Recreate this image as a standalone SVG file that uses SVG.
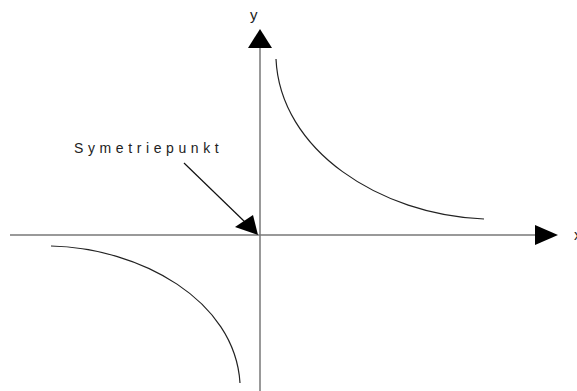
<svg xmlns="http://www.w3.org/2000/svg" width="577" height="391" viewBox="0 0 577 391">
<style>
.axis{stroke:#777;stroke-width:1.5;fill:none}
.curve{stroke:#222;stroke-width:1.2;fill:none}
.head{fill:#000;stroke:none}
.lbl{font-family:"Liberation Sans",Arial,sans-serif;fill:#222}
</style>
<rect width="577" height="391" fill="#fff"/>
<g id="connectors">
<line class="axis" x1="10" y1="235" x2="540" y2="235"/>
<polygon class="head" points="535,225 558,235 535,245"/>
<line class="axis" x1="260" y1="45" x2="260" y2="391"/>
<polygon class="head" points="248,48 260,29 272,48"/>
<line x1="184" y1="163" x2="246" y2="223" stroke="#111" stroke-width="1.2"/>
<polygon class="head" points="258,235 235,227 253,215"/>
</g>
<g id="curve-upper">
<path class="curve" d="M276,59 C280,150 380,215 484,219"/>
</g>
<g id="curve-lower">
<path class="curve" d="M51,246 C140,248 235,300 240,383"/>
</g>
<g id="labels">
<text class="lbl" x="250" y="20" font-size="15">y</text>
<text class="lbl" x="574" y="240" font-size="15">x</text>
<text class="lbl" x="74" y="153" font-size="14" letter-spacing="4.6">Symetriepunkt</text>
</g>
</svg>
